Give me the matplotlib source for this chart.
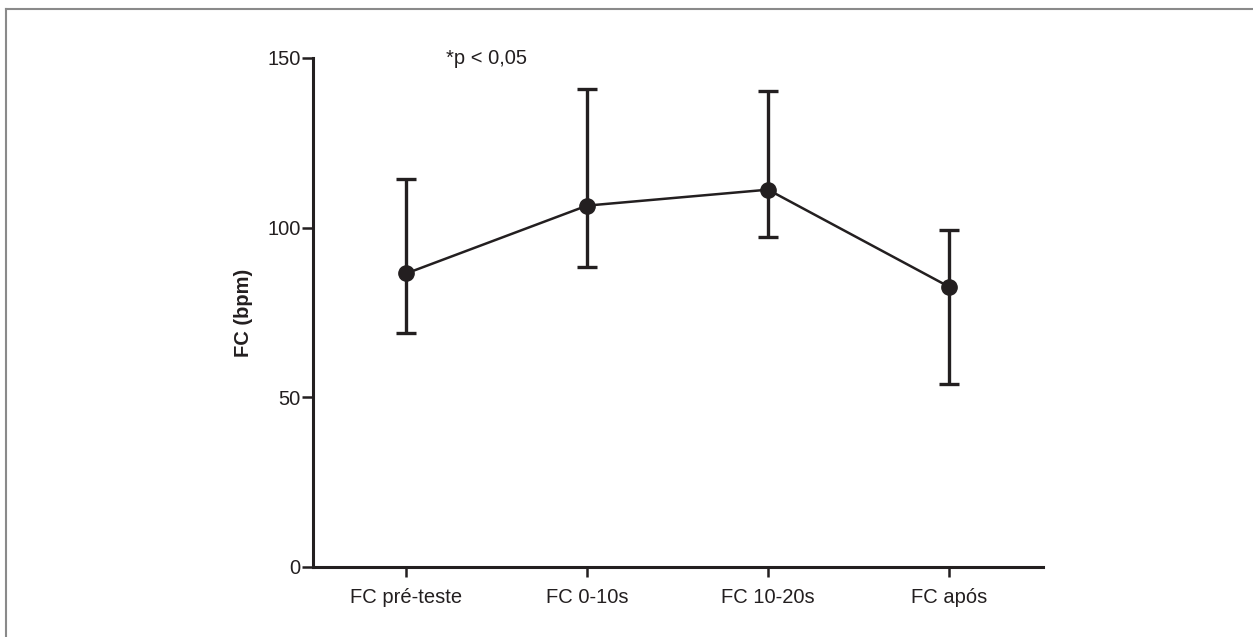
import matplotlib
matplotlib.use("Agg")
import matplotlib.pyplot as plt
from matplotlib import font_manager
from matplotlib.lines import Line2D

categories = ["FC pré-teste", "FC 0-10s", "FC 10-20s", "FC após"]
means = [86.5, 106.5, 111.2, 82.6]
upper = [114.4, 140.9, 140.3, 99.4]
lower = [69.0, 88.4, 97.3, 53.9]
yticks = [0, 50, 100, 150]

names = {f.name for f in font_manager.fontManager.ttflist}
fam = "Liberation Sans Narrow" if "Liberation Sans Narrow" in names else "Liberation Sans"
plt.rcParams["font.family"] = [fam, "DejaVu Sans"]

ink = "#231f20"
fig = plt.figure(figsize=(12.53, 6.37), dpi=100)
ax = fig.add_axes([313/1253, 1-567/637, (1043-313)/1253, (567-58)/637])

x = list(range(len(categories)))
yerr = [[m - l for m, l in zip(means, lower)], [u - m for m, u in zip(means, upper)]]
ax.errorbar(x, means, yerr=yerr, fmt="o-", color=ink, ecolor=ink, elinewidth=2.4,
            capsize=7.5, capthick=2.4, lw=1.8, markersize=11, zorder=3)

ax.set_xlim(-0.515, 3.52)
ax.set_ylim(0, 150)
ax.set_yticks(yticks)
ax.set_xticks(x)
ax.set_xticklabels(categories)
for s in ["top", "right"]:
    ax.spines[s].set_visible(False)
for s in ["left", "bottom"]:
    ax.spines[s].set_linewidth(2.2)
    ax.spines[s].set_color(ink)
ax.tick_params(axis="y", length=8, width=1.8, color=ink, labelsize=14.5, pad=1, labelcolor=ink)
ax.tick_params(axis="x", length=7, width=1.8, color=ink, labelsize=14.5, pad=8, labelcolor=ink)
ax.set_ylabel("FC (bpm)", fontsize=14.5, fontweight="bold", color=ink, labelpad=10)
ax.text(0.237, 1.0, "*p < 0,05", transform=ax.transAxes, fontsize=14.5, color=ink,
        ha="center", va="center")

# figure frame (top and left edges visible)
fig.add_artist(Line2D([6/1253, 1.0], [1-8.5/637, 1-8.5/637], transform=fig.transFigure,
                      color="#8a8a8a", lw=1.5))
fig.add_artist(Line2D([6/1253, 6/1253], [0, 1-8.5/637], transform=fig.transFigure,
                      color="#8a8a8a", lw=1.5))

fig.savefig("out.png", dpi=100)
